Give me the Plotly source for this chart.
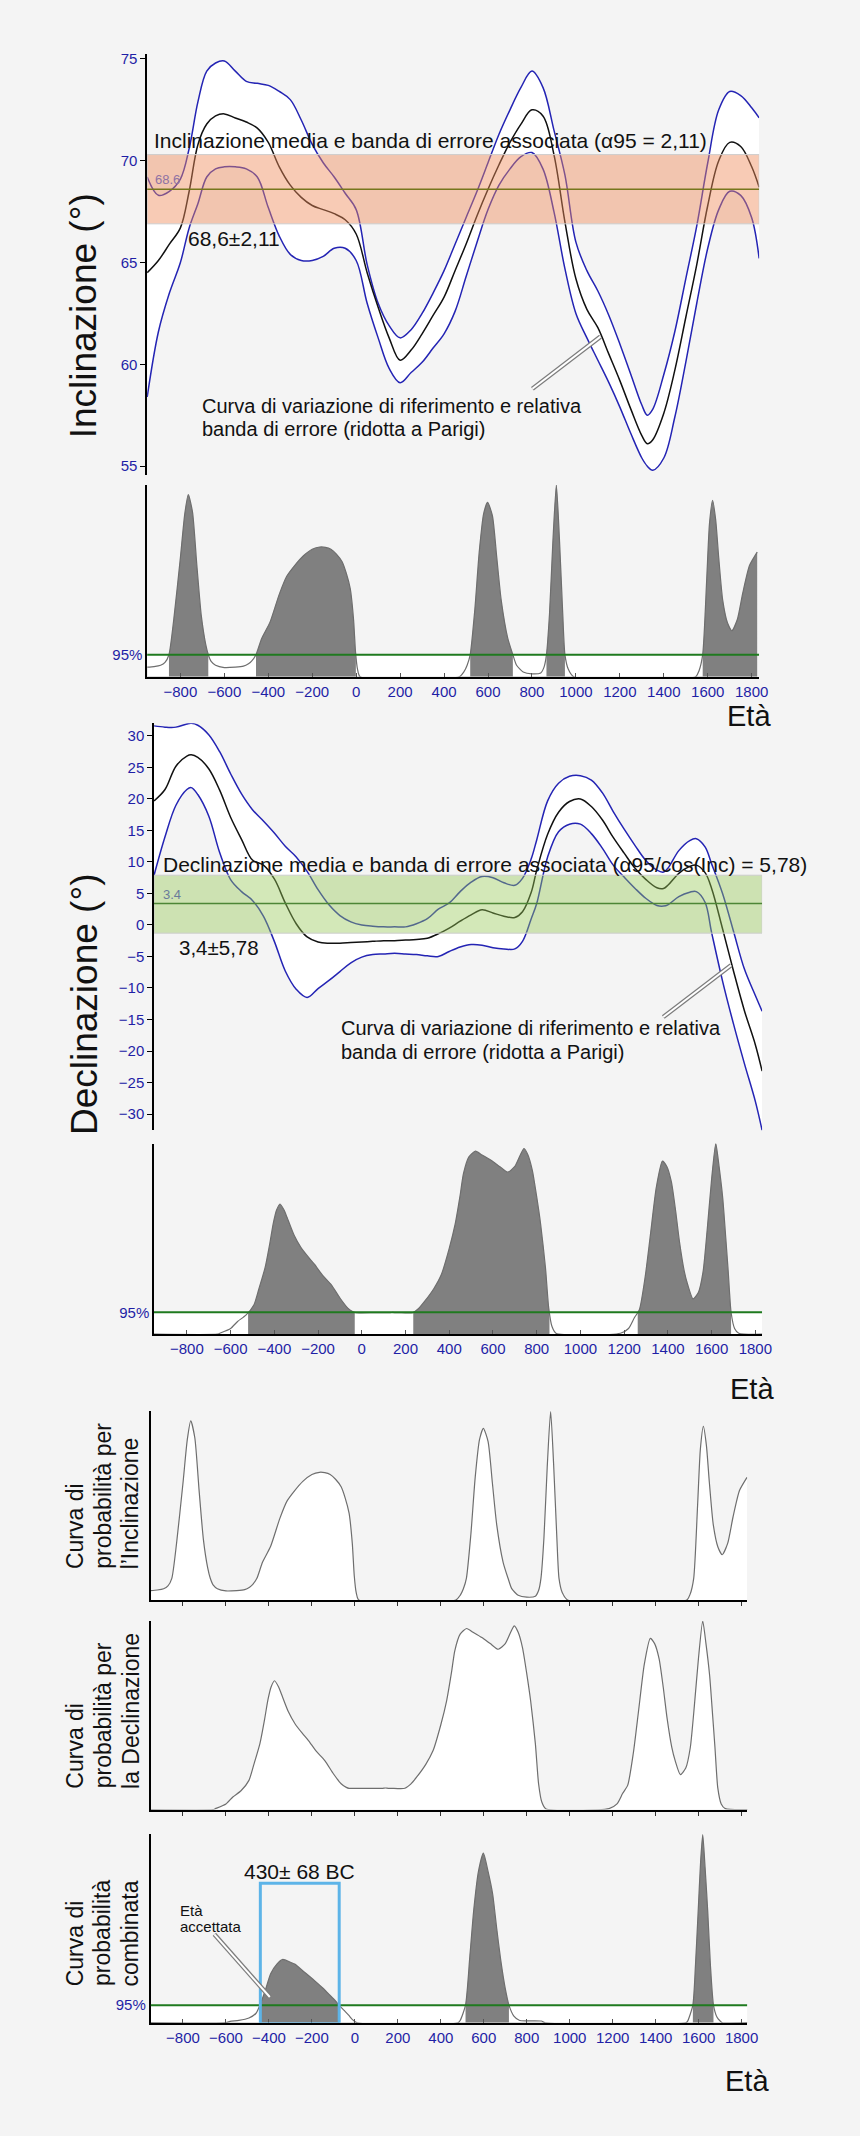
import plotly.graph_objects as go

W, H = 860, 2136

# ---------------- data ----------------
x_ticks = [-800, -600, -400, -200, 0, 200, 400, 600, 800, 1000, 1200, 1400, 1600, 1800]

# Inclination reference curve (deg) and its error band
inc_years = [-951, -900, -850, -800, -760, -720, -680, -640, -600, -550,
             -500, -450, -400, -350, -300, -250, -200, -150, -100, -50,
             0, 50, 100, 150, 200, 250, 300, 350, 400, 450,
             500, 550, 600, 650, 700, 750, 800, 850, 900, 950,
             1000, 1050, 1100, 1150, 1200, 1250, 1300, 1325, 1350, 1400,
             1450, 1500, 1550, 1600, 1650, 1700, 1750, 1800, 1834]
inc_upper = [69.2, 68.3, 68.5, 69.1, 70.6, 72.9, 74.4, 74.8, 74.9, 74.4,
             73.9, 73.8, 73.7, 73.4, 73.0, 72.0, 70.8, 69.9, 69.2, 68.4,
             67.6, 64.9, 63.0, 61.9, 61.3, 61.7, 62.5, 63.5, 64.6, 65.9,
             67.2, 68.5, 69.9, 71.3, 72.5, 73.6, 74.4, 73.6, 71.5, 69.3,
             66.0, 64.6, 63.6, 62.4, 61.0, 59.5, 58.0, 57.5, 57.8, 59.5,
             61.6, 64.2, 66.8, 69.9, 72.5, 73.4, 73.2, 72.6, 72.1]
inc_mean = [64.5, 65.1, 65.9, 66.7, 68.5, 70.8, 71.8, 72.2, 72.3, 72.1,
            71.9, 71.6, 70.9, 69.7, 68.8, 68.2, 67.8, 67.6, 67.4, 67.1,
            66.4, 64.5, 62.8, 61.3, 60.2, 60.7, 61.5, 62.4, 63.3, 64.6,
            65.9, 67.3, 68.6, 69.8, 70.9, 71.8, 72.5, 72.2, 70.3, 67.0,
            64.2, 62.7, 61.8, 60.5, 59.2, 57.8, 56.5, 56.1, 56.3, 57.6,
            59.7, 62.3, 64.9, 67.8, 70.0, 70.9, 70.7, 69.7, 68.7]
inc_lower = [58.4, 61.6, 63.5, 65.0, 66.7, 67.9, 69.2, 69.6, 69.7, 69.7,
             69.6, 69.2, 67.7, 66.3, 65.4, 65.1, 65.1, 65.3, 65.7, 65.7,
             65.1, 63.0, 61.3, 59.8, 59.1, 59.6, 60.1, 60.8, 61.5, 62.6,
             64.3, 66.0, 67.6, 68.8, 69.6, 70.2, 70.4, 69.6, 67.5, 64.7,
             62.5, 61.3, 60.2, 59.1, 57.9, 56.6, 55.4, 55.0, 54.8, 55.4,
             57.4, 60.1, 63.0, 65.7, 67.6, 68.5, 68.3, 67.2, 65.2]
inc_avg = 68.6
inc_band_hi = 70.3
inc_band_lo = 66.9

# Declination reference curve (deg) and its error band
dec_years = [-950, -900, -850, -800, -780, -750, -700, -650, -600, -550,
             -500, -450, -400, -350, -300, -250, -200, -150, -100, -50,
             0, 50, 100, 150, 200, 250, 300, 350, 400, 450,
             500, 550, 600, 650, 700, 735, 775, 800, 850, 900,
             950, 1000, 1050, 1100, 1150, 1200, 1250, 1300, 1350, 1380,
             1400, 1450, 1500, 1530, 1570, 1600, 1650, 1700, 1750, 1800, 1831]
dec_upper = [31.6, 31.4, 31.4, 31.9, 32.0, 31.7, 30.2, 27.5, 24.0, 20.8,
             18.3, 16.5, 14.6, 12.5, 10.8, 8.5, 5.6, 3.2, 1.5, 0.5,
             0.0, -0.2, -0.3, -0.3, -0.3, 0.2, 1.0, 2.5, 3.5, 5.3,
             6.8, 7.7, 7.5, 6.7, 6.3, 7.4, 10.5, 13.5, 19.7, 22.5,
             23.6, 23.7, 23.0, 21.0, 18.0, 15.2, 12.6, 10.2, 8.7, 8.4,
             9.0, 11.8, 13.4, 13.7, 12.4, 9.7, 5.0, -1.0, -7.0, -11.2, -13.7]
dec_mean = [19.7, 21.5, 25.2, 26.8, 27.0, 26.6, 24.8, 21.4, 17.1, 13.6,
            10.3, 9.5, 7.3, 3.5, 0.2, -1.9, -2.7, -2.9, -2.9, -2.8,
            -2.7, -2.6, -2.5, -2.5, -2.4, -2.3, -2.1, -1.4, -0.5, 0.6,
            1.6, 2.4, 1.9, 1.4, 1.2, 2.1, 5.2, 8.7, 14.4, 17.9,
            19.6, 20.0, 18.8, 16.7, 13.9, 11.4, 9.0, 7.2, 5.9, 5.8,
            6.3, 8.2, 9.3, 9.5, 8.3, 5.8, -0.6, -7.3, -13.6, -19.0, -23.2]
dec_lower = [7.9, 14.0, 19.0, 21.5, 21.8, 20.7, 17.3, 11.5, 7.2, 5.3,
             3.9, 1.4, -2.6, -7.3, -10.2, -11.5, -10.1, -8.8, -7.4, -6.0,
             -5.1, -4.7, -4.6, -4.5, -4.6, -4.7, -4.9, -5.0, -4.2, -3.5,
             -3.1, -3.2, -3.6, -3.8, -3.8, -2.6, 1.0, 3.4, 10.8, 14.8,
             16.0, 16.0, 14.5, 12.2, 9.5, 7.6, 5.8, 4.2, 3.1, 3.0,
             3.2, 4.5, 5.2, 5.3, 3.6, -1.2, -8.9, -15.7, -22.0, -28.0, -32.6]
dec_avg = 3.4
dec_band_hi = 7.9
dec_band_lo = -1.3

# Probability curves (relative, 0-100)
incp_years = [-951, -920, -890, -870, -852, -830, -800, -780, -764, -745,
              -725, -705, -685, -673, -660, -640, -600, -550, -513, -490,
              -475, -456, -430, -392, -350, -316, -280, -241, -200, -165,
              -140, -115, -90, -64, -45, -27, -12, -3, 6, 18,
              470, 490, 505, 519, 540, 560, 580, 598, 620, 640,
              660, 690, 713, 730, 760, 800, 840, 855, 866, 880,
              895, 911, 925, 940, 950, 965, 990, 1545, 1560, 1577,
              1595, 1608, 1622, 1636, 1650, 1668, 1690, 1710, 1735, 1760,
              1790, 1825]
incp_vals = [5.0, 5.3, 6.0, 7.5, 11.5, 30, 62, 85, 95, 86,
             58, 32, 17, 11.5, 8, 6, 4.8, 5.0, 5.5, 6.8,
             8.3, 11.5, 20, 28.5, 43, 52.4, 58, 63, 66.5, 67.7,
             67.5, 66.5, 64, 60, 54, 46, 30, 13, 4, 0,
             0, 2.5, 6, 11.5, 35, 65, 85, 91, 84, 62,
             40, 20, 11.5, 6, 2.5, 1.5, 2, 5, 11.5, 33,
             70, 100, 72, 33, 11.5, 4, 0, 0, 3, 11.5,
             50, 80, 92, 82, 62, 40, 28, 24, 30, 44,
             58, 65]

decp_years = [-951, -660, -649, -600, -568, -530, -493, -470, -442, -420,
              -405, -390, -374, -355, -342, -310, -278, -245, -216, -180,
              -140, -100, -64, -40, -27, 60, 112, 130, 142, 155,
              170, 233, 260, 288, 330, 364, 400, 427, 450, 465,
              490, 520, 550, 591, 630, 667, 700, 725, 742, 760,
              780, 800, 818, 840, 855, 870, 888, 1183, 1220, 1246,
              1270, 1296, 1320, 1347, 1375, 1395, 1416, 1435, 1453, 1475,
              1491, 1515, 1540, 1561, 1580, 1599, 1619, 1634, 1651, 1665,
              1676, 1689, 1705, 1724, 1832]
decp_vals = [0, 0, 0.5, 3, 6.7, 10, 15.5, 24, 35, 48,
             58, 65, 68.3, 65, 61.3, 52, 45.4, 40.5, 36.6, 31,
             26, 19, 13.7, 11.8, 11.3, 11.3, 11.3, 11.3, 11.45, 11.3,
             11.3, 11.3, 13.5, 17.3, 24, 31.3, 45, 57.7, 73, 84.2,
             93, 96, 94, 91.2, 88, 85, 88, 94, 97.4, 94,
             85.9, 72, 57.7, 35, 13.7, 4, 0.5, 0.5, 3, 8.5,
             13, 30, 52, 77, 90.8, 88, 79.9, 65, 48.5, 33,
             25.8, 18.5, 22, 32.8, 55, 80, 100, 88, 71.2, 50,
             32.8, 11.5, 3, 0.5, 0]

comb_years = [-951, -600, -581, -540, -493, -460, -442, -417, -392, -362,
              -335, -300, -278, -243, -216, -180, -151, -120, -90, -74,
              -50, -29, -10, 11, 480, 490, 515, 535, 553, 575,
              598, 620, 641, 660, 679, 700, 717, 740, 767, 800,
              868, 885, 1540, 1548, 1573, 1585, 1598, 1609, 1619, 1630,
              1642, 1655, 1669, 1685, 1700, 1710, 1826]
comb_vals = [0, 0, 0.7, 1.2, 2.5, 5, 9.3, 17.1, 25.9, 31.2,
             33.5, 32, 31, 27.5, 25, 21.5, 18.5, 15, 11.5, 9.3,
             6.5, 4, 1.5, 0, 0, 1.2, 9.3, 35, 59.4, 80,
             89.8, 80, 68.3, 50, 33, 18, 9.3, 3.5, 1.2, 1.0,
             0.9, 0, 0, 0.7, 9.3, 30, 59.4, 85, 99.6, 82,
             59.4, 30, 9.3, 3, 0.9, 0, 0]

thr_inc = 11.5
thr_dec = 11.5
thr_comb = 9.3
accepted_age = [-440, -73]

# ---------------- style ----------------
BG = '#f4f4f4'
BLUE = '#2424b4'
TICKBLUE = '#1f1fa6'
GRAYFILL = '#808080'
CURVE = '#6e6e6e'
GREEN = '#1f7a1f'
FONT = 'Liberation Sans, Arial, sans-serif'


def ydom(top, bottom):
    return [1 - bottom / H, 1 - top / H]


def xdom(left, right):
    return [left / W, right / W]


panels = {
    1: dict(xd=(149, 769), xr=(-951.5, 1834), yd=(49.9, 472.2), yr=(54.55, 75.25)),
    2: dict(xd=(149, 769), xr=(-951.5, 1834), yd=(482, 674), yr=(0, 100)),
    3: dict(xd=(156, 772), xr=(-950.3, 1831), yd=(720.7, 1128.5), yr=(-32.6, 32.0)),
    4: dict(xd=(156, 772), xr=(-950.3, 1831), yd=(1141.7, 1332.7), yr=(0, 100)),
    5: dict(xd=(152.5, 757), xr=(-951, 1826.5), yd=(1410, 1599), yr=(0, 100)),
    6: dict(xd=(152.5, 757), xr=(-951, 1826.5), yd=(1620, 1809), yr=(0, 100)),
    7: dict(xd=(152.5, 757), xr=(-951, 1826.5), yd=(1833.3, 2022.5), yr=(0, 100)),
}


def refs(i):
    return ('x', 'y') if i == 1 else ('x%d' % i, 'y%d' % i)


fig = go.Figure()


def line_trace(i, xs, ys, color, width, fill=None, fillcolor=None, smoothing=1.0):
    xa, ya = refs(i)
    fig.add_trace(go.Scatter(
        x=xs, y=ys, mode='lines', xaxis=xa, yaxis=ya,
        line=dict(color=color, width=width, shape='spline', smoothing=smoothing),
        fill=fill, fillcolor=fillcolor, hoverinfo='skip', showlegend=False))


def below_intervals(xs, ys, thr, xmin, xmax):
    out = []
    start = xmin if ys[0] < thr else None
    for k in range(1, len(xs)):
        ya, yb = ys[k - 1], ys[k]
        if (ya < thr) != (yb < thr):
            xc = xs[k - 1] + (thr - ya) * (xs[k] - xs[k - 1]) / (yb - ya)
            if yb < thr:
                start = xc
            else:
                out.append((start, xc))
                start = None
    if start is not None:
        out.append((start, xmax))
    return out


def filled_prob(i, xs, ys, thr):
    xa, ya = refs(i)
    xr = panels[i]['xr']
    # gray area under the curve
    line_trace(i, xs, ys, GRAYFILL, 0.1, fill='tozeroy', fillcolor=GRAYFILL, smoothing=0.6)
    # white area below the 95% level where the curve is under it
    wx, wy = [], []
    for a, b in below_intervals(xs, ys, thr, xr[0], xr[1]):
        wx += [a, b, b, a, a, None]
        wy += [0, 0, thr, thr, 0, None]
    fig.add_trace(go.Scatter(x=wx, y=wy, mode='lines', xaxis=xa, yaxis=ya,
                             line=dict(width=0, color='white'), fill='toself',
                             fillcolor='white', hoverinfo='skip', showlegend=False))
    line_trace(i, xs, ys, CURVE, 1.2, smoothing=0.6)


# Panel 1 - inclination
line_trace(1, inc_years, inc_lower, BLUE, 1.5)
line_trace(1, inc_years, inc_upper, BLUE, 1.5, fill='tonexty', fillcolor='white')
line_trace(1, inc_years, inc_mean, '#111111', 1.5)
# Panel 2 - inclination probability (filled)
filled_prob(2, incp_years, incp_vals, thr_inc)
# Panel 3 - declination
line_trace(3, dec_years, dec_lower, BLUE, 1.5)
line_trace(3, dec_years, dec_upper, BLUE, 1.5, fill='tonexty', fillcolor='white')
line_trace(3, dec_years, dec_mean, '#111111', 1.5)
# Panel 4 - declination probability (filled)
filled_prob(4, decp_years, decp_vals, thr_dec)
# Panel 5, 6 - probability curves (white)
line_trace(5, incp_years, incp_vals, CURVE, 1.2, fill='tozeroy', fillcolor='white', smoothing=0.6)
line_trace(6, decp_years, decp_vals, CURVE, 1.2, fill='tozeroy', fillcolor='white', smoothing=0.6)
# Panel 7 - combined
filled_prob(7, comb_years, comb_vals, thr_comb)

# ---------------- axes ----------------
layout_axes = {}
for i, p in panels.items():
    xa, ya = refs(i)
    xkey = 'xaxis' if i == 1 else 'xaxis%d' % i
    ykey = 'yaxis' if i == 1 else 'yaxis%d' % i
    xax = dict(domain=xdom(*p['xd']), range=list(p['xr']), anchor=ya,
               showgrid=False, zeroline=False, fixedrange=True)
    yax = dict(domain=ydom(*p['yd']), range=list(p['yr']), anchor=xa,
               showgrid=False, zeroline=False, showline=True, linecolor='black',
               linewidth=1.5, fixedrange=True,
               tickfont=dict(size=15, color=TICKBLUE, family=FONT))
    if i in (1, 3):
        xax.update(showline=False, showticklabels=False, ticks='')
        vals = [55, 60, 65, 70, 75] if i == 1 else list(range(-30, 31, 5))
        yax.update(tickvals=vals, ticks='outside', ticklen=5, tickwidth=1,
                   tickcolor='black')
    else:
        xax.update(showline=True, linecolor='black', linewidth=2,
                   tickvals=x_ticks, tickwidth=1, ticklen=4)
        if i in (5, 6):
            xax.update(ticks='outside', tickcolor='#333333', showticklabels=False)
        else:
            xax.update(ticks='inside', tickcolor='#555555', showticklabels=True,
                       tickfont=dict(size=15, color=TICKBLUE, family=FONT))
        if i in (2, 4, 7):
            thr = {2: thr_inc, 4: thr_dec, 7: thr_comb}[i]
            yax.update(tickvals=[thr], ticktext=['95%'], ticks='')
        else:
            yax.update(showticklabels=False, ticks='')
    layout_axes[xkey] = xax
    layout_axes[ykey] = yax

# ---------------- shapes ----------------
shapes = []


def band(i, lo, hi, fillc, avg, avgc):
    xa, ya = refs(i)
    xr = panels[i]['xr']
    shapes.append(dict(type='rect', xref=xa, yref=ya, x0=xr[0], x1=xr[1], y0=lo, y1=hi,
                       fillcolor=fillc, line=dict(color='rgba(205,205,205,1)', width=1),
                       layer='above'))
    shapes.append(dict(type='line', xref=xa, yref=ya, x0=xr[0], x1=xr[1], y0=avg, y1=avg,
                       line=dict(color=avgc, width=1.5), layer='above'))


band(1, inc_band_lo, inc_band_hi, 'rgba(240,140,90,0.45)', inc_avg, '#76761c')
band(3, dec_band_lo, dec_band_hi, 'rgba(150,200,85,0.42)', dec_avg, '#4d8636')

for i, thr in ((2, thr_inc), (4, thr_dec), (7, thr_comb)):
    xa, ya = refs(i)
    xr = panels[i]['xr']
    shapes.append(dict(type='line', xref=xa, yref=ya, x0=xr[0], x1=xr[1], y0=thr, y1=thr,
                       line=dict(color=GREEN, width=2), layer='above'))

# accepted-age box
shapes.append(dict(type='rect', xref='x7', yref='y7', x0=accepted_age[0], x1=accepted_age[1],
                   y0=-0.6, y1=73.9, line=dict(color='#5db4e8', width=3),
                   fillcolor='rgba(0,0,0,0)', layer='above'))


def pointer(i, x0, y0, x1, y1):
    xa, ya = refs(i)
    shapes.append(dict(type='line', xref=xa, yref=ya, x0=x0, y0=y0, x1=x1, y1=y1,
                       line=dict(color='#7c7c7c', width=4.5), layer='above'))
    shapes.append(dict(type='line', xref=xa, yref=ya, x0=x0, y0=y0, x1=x1, y1=y1,
                       line=dict(color='white', width=2), layer='above'))


pointer(1, 802, 58.8, 1112, 61.36)
pointer(3, 1379, -14.6, 1689, -6.4)
pointer(7, -654, 46.8, -396, 13.6)

# ---------------- annotations ----------------
ann = []


def text(i, x, y, s, size, color='#111111', xanchor='left', yanchor='middle'):
    xa, ya = refs(i)
    ann.append(dict(xref=xa, yref=ya, x=x, y=y, text=s, showarrow=False,
                    xanchor=xanchor, yanchor=yanchor,
                    font=dict(size=size, color=color, family=FONT)))


def ptext(px, py, s, size, angle=0, xanchor='center', yanchor='middle', color='#111111'):
    ann.append(dict(xref='paper', yref='paper', x=px / W, y=1 - py / H, text=s,
                    showarrow=False, xanchor=xanchor, yanchor=yanchor, textangle=angle,
                    font=dict(size=size, color=color, family=FONT)))


text(1, -931, 70.98, 'Inclinazione media e banda di errore associata (α95 = 2,11)', 21)
text(1, -556, 66.2, '68,6±2,11', 21, xanchor='center')
text(1, -925, 69.08, '68.6', 13, color='#8f72a3')
text(1, -709, 57.94, 'Curva di variazione di riferimento e relativa', 20)
text(1, -709, 56.8, 'banda di errore (ridotta a Parigi)', 20)

text(3, -916.5, 9.66, 'Declinazione media e banda di errore associata (α95/cos(Inc) = 5,78)', 21)
text(3, -652, -3.64, '3,4±5,78', 20.5, xanchor='center')
text(3, -919, 4.86, '3.4', 13, color='#6a7b9b')
text(3, -106, -16.36, 'Curva di variazione di riferimento e relativa', 20)
text(3, -106, -20.1, 'banda di errore (ridotta a Parigi)', 20)

text(7, -260, 80, '430± 68 BC', 21, xanchor='center')
text(7, -825, 59.5, 'Età', 15)
text(7, -825, 51.0, 'accettata', 15)

ptext(85, 312, 'Inclinazione (°)', 37, angle=-90)
ptext(85, 1002, 'Declinazione (°)', 37, angle=-90)

for (lines, bottom) in ((['Curva di', 'probabilità per', 'l’Inclinazione'], 1570),
                        (['Curva di', 'probabilità per', 'la Declinazione'], 1790),
                        (['Curva di', 'probabilità', 'combinata'], 1988)):
    for k, s in enumerate(lines):
        ptext(76 + 28 * k, bottom, s, 23, angle=-90, yanchor='bottom')

ptext(759, 713, 'Età', 29)
ptext(762, 1388, 'Età', 29)
ptext(757, 2081, 'Età', 29)

fig.update_layout(
    width=W, height=H, autosize=False,
    margin=dict(l=0, r=0, t=0, b=0, pad=0),
    paper_bgcolor=BG, plot_bgcolor=BG,
    showlegend=False, hovermode=False,
    font=dict(family=FONT, color='#111111'),
    shapes=shapes, annotations=ann,
    **layout_axes)

fig.write_html('out.html')
